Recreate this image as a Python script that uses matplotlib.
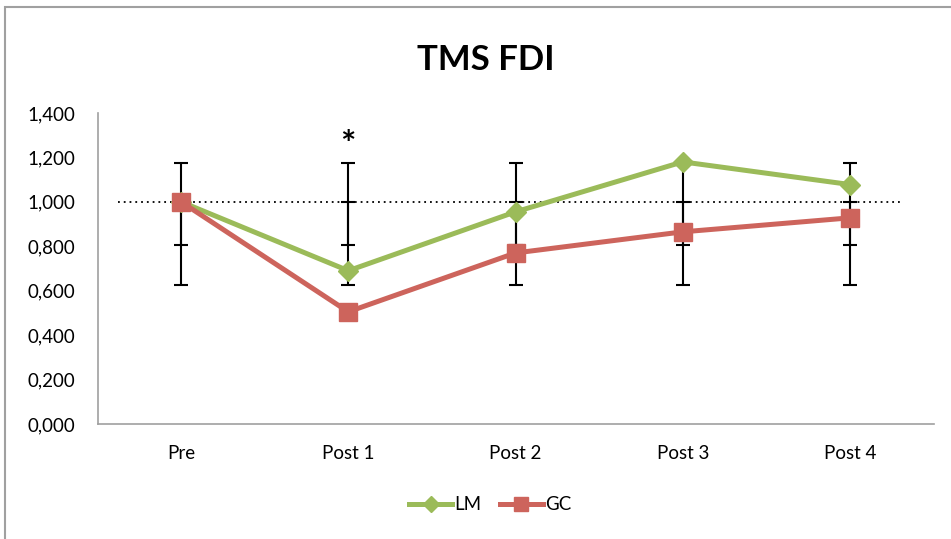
import matplotlib
matplotlib.use("Agg")
import matplotlib.pyplot as plt
from matplotlib.patches import Rectangle
import numpy as np

categories = ["Pre", "Post 1", "Post 2", "Post 3", "Post 4"]
lm = [1.000, 0.690, 0.955, 1.180, 1.078]
gc = [1.000, 0.505, 0.770, 0.865, 0.928]
# error bar cap levels (same for each time point)
err_bottom = 0.626
err_lower_mid = 0.806
err_upper_mid = 1.000
err_top = 1.176
yticks = [0.0, 0.2, 0.4, 0.6, 0.8, 1.0, 1.2, 1.4]
ytick_labels = ["0,000", "0,200", "0,400", "0,600", "0,800", "1,000", "1,200", "1,400"]

plt.rcParams['font.family'] = ['Lato', 'DejaVu Sans']

fig = plt.figure(figsize=(9.51, 5.39), dpi=100)
W, H = 951, 539
ax = fig.add_axes([97.5 / W, 1 - 424 / H, (933.5 - 97.5) / W, (424 - 113) / H])

x = np.arange(len(categories))

n = len(categories)
mid_a = (err_bottom + err_upper_mid) / 2
ax.errorbar(x, [mid_a] * n, yerr=[[mid_a - err_bottom] * n, [err_upper_mid - mid_a] * n],
            fmt='none', ecolor='black', elinewidth=1.5, capsize=5, capthick=1.5, zorder=2)
mid_b = (err_lower_mid + err_top) / 2
ax.errorbar(x, [mid_b] * n, yerr=[[mid_b - err_lower_mid] * n, [err_top - mid_b] * n],
            fmt='none', ecolor='black', elinewidth=1.5, capsize=5, capthick=1.5, zorder=2)

ax.axhline(1.0, xmin=(118 - 97.5) / 836, xmax=(903 - 97.5) / 836, color='black',
           linestyle=(0, (1, 2.2)), linewidth=1.3, zorder=1)

green = '#9bbb59'
red = '#cd645c'
ax.plot(x, lm, color=green, linewidth=3.6, marker='D', markersize=10, label='LM', zorder=3)
ax.plot(x, gc, color=red, linewidth=3.6, marker='s', markersize=13, label='GC', zorder=4)

ax.text(1, 1.255, "*", ha='center', va='center', fontsize=26, fontweight='bold')

ax.set_xlim(-0.5, 4.5)
ax.set_ylim(0, 1.4)
ax.set_yticks(yticks)
ax.set_yticklabels(ytick_labels, fontsize=13.5)
ax.set_xticks(x)
ax.set_xticklabels(categories, fontsize=13.5)
ax.tick_params(axis='x', length=0, pad=15)
ax.tick_params(axis='y', length=0, pad=16)
for s in ['top', 'right']:
    ax.spines[s].set_visible(False)
for s in ['left', 'bottom']:
    ax.spines[s].set_color('#a0a0a0')
    ax.spines[s].set_linewidth(1.2)

fig.text(486 / W, 1 - 60 / H, "TMS FDI", ha='center', va='center', fontsize=25, fontweight='bold')

leg = fig.legend(loc='center', bbox_to_anchor=(490 / W, 1 - 505 / H), ncol=2, frameon=False,
                 fontsize=13.5, handlelength=2.3, handletextpad=0.1, columnspacing=1.0,
                 markerscale=0.8)

fig.patches.append(Rectangle((5 / W, -0.1), 1.2, 1 - 7 / H + 0.1, transform=fig.transFigure,
                             fill=False, edgecolor='#a0a0a0', linewidth=1.5))

fig.savefig("out.png", dpi=100)
